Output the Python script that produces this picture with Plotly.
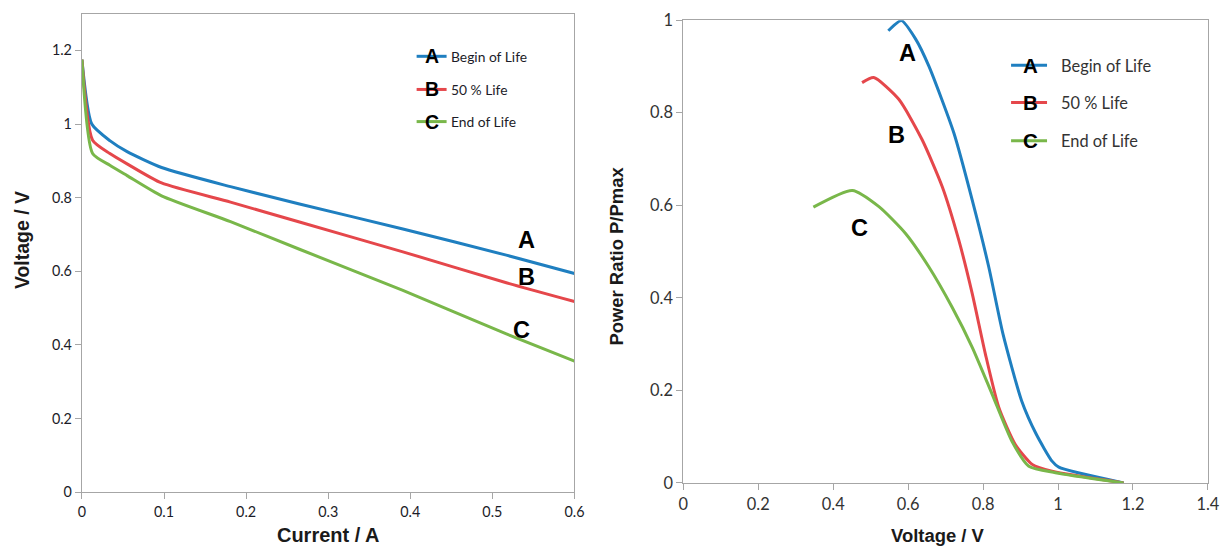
import plotly.graph_objects as go

W, H = 1222, 547

# ---------------- data (left: polarisation curves) ----------------
current_A = [0, 0.012, 0.034, 0.055, 0.097, 0.181, 0.265, 0.391, 0.517, 0.6]
voltage_A = [1.175, 1.0, 0.955, 0.925, 0.882, 0.830, 0.783, 0.715, 0.644, 0.594]
current_B = [0, 0.013, 0.034, 0.055, 0.097, 0.181, 0.265, 0.391, 0.517, 0.6]
voltage_B = [1.175, 0.956, 0.92, 0.892, 0.84, 0.788, 0.734, 0.653, 0.569, 0.518]
current_C = [0, 0.013, 0.034, 0.055, 0.097, 0.181, 0.265, 0.391, 0.517, 0.6]
voltage_C = [1.175, 0.92, 0.888, 0.86, 0.805, 0.735, 0.66, 0.548, 0.43, 0.356]

# ---------------- data (right: power ratio vs voltage) ----------------
volt_A = [0.547, 0.582, 0.62, 0.655, 0.722, 0.771, 0.815, 0.853, 0.903, 0.942, 0.984, 1.002, 1.175]
pr_A = [0.977, 0.999, 0.959, 0.901, 0.756, 0.611, 0.467, 0.322, 0.177, 0.105, 0.047, 0.034, 0.0]
volt_B = [0.477, 0.508, 0.575, 0.637, 0.691, 0.735, 0.771, 0.806, 0.842, 0.886, 0.931, 0.984, 1.175]
pr_B = [0.865, 0.876, 0.829, 0.742, 0.64, 0.525, 0.409, 0.279, 0.163, 0.083, 0.04, 0.025, 0.0]
volt_C = [0.347, 0.451, 0.522, 0.593, 0.655, 0.717, 0.771, 0.824, 0.877, 0.922, 0.993, 1.175]
pr_C = [0.596, 0.632, 0.597, 0.539, 0.467, 0.38, 0.293, 0.192, 0.09, 0.036, 0.022, 0.0]

letters = ["A", "B", "C"]
series_names = ["Begin of Life", "50 % Life", "End of Life"]
colors = ["#1f7fc0", "#e5474b", "#79b74a"]

left_label_pos = [(0.5416, 0.686), (0.5416, 0.584), (0.535, 0.442)]
right_label_pos = [(0.597, 0.93), (0.568, 0.752), (0.469, 0.551)]

left_ticks_x = [0, 0.1, 0.2, 0.3, 0.4, 0.5, 0.6]
left_ticks_y = [0, 0.2, 0.4, 0.6, 0.8, 1.0, 1.2]
right_ticks_x = [0, 0.2, 0.4, 0.6, 0.8, 1.0, 1.2, 1.4]
right_ticks_y = [0, 0.2, 0.4, 0.6, 0.8, 1.0]

# the photographed page is slightly rescaled; map target pixels to figure pixels
SX, BX = 0.987, 5.0
SY, BY = 0.961, 10.9
FS = 1.025  # font compensation


def fx(t):
    return (t - BX) / SX


def fy(t):
    return (t - BY) / SY


def px(t):
    return fx(t) / W


def py(t):
    return 1 - fy(t) / H


# ---------------- figure ----------------
fig = go.Figure()
left_sets = [(current_A, voltage_A), (current_B, voltage_B), (current_C, voltage_C)]
right_sets = [(volt_A, pr_A), (volt_B, pr_B), (volt_C, pr_C)]

for (xs, ys), c, n in zip(left_sets, colors, series_names):
    fig.add_trace(go.Scatter(x=xs, y=ys, mode="lines", name=n, showlegend=False,
                             line=dict(color=c, width=3, shape="spline", smoothing=0.6),
                             xaxis="x", yaxis="y"))
for (xs, ys), c, n in zip(right_sets, colors, series_names):
    fig.add_trace(go.Scatter(x=xs, y=ys, mode="lines", name=n, showlegend=False,
                             line=dict(color=c, width=3, shape="spline", smoothing=0.6),
                             xaxis="x2", yaxis="y2"))

axis_common = dict(showgrid=False, zeroline=False, showline=True, linecolor="#a6a6a6",
                   linewidth=1.3, mirror=True, ticks="outside", tickcolor="#a6a6a6",
                   ticklen=6, tickwidth=1.3)

fig.update_layout(
    width=W, height=H,
    margin=dict(l=0, r=0, t=0, b=0),
    paper_bgcolor="white", plot_bgcolor="white",
    showlegend=False,
    xaxis=dict(domain=[px(82), px(575)], range=[0, 0.6], tickvals=left_ticks_x,
               tickfont=dict(family="Lato", size=14 * FS, color="#1c1c28"), anchor="y",
               **axis_common),
    yaxis=dict(domain=[py(491), py(14.5)], range=[0, 1.3], tickvals=left_ticks_y,
               tickfont=dict(family="Lato", size=14 * FS, color="#1c1c28"), anchor="x",
               **axis_common),
    xaxis2=dict(domain=[px(684), px(1209)], range=[0, 1.4], tickvals=right_ticks_x,
                tickfont=dict(family="Lato", size=16 * FS, color="#333333"), anchor="y2",
                **axis_common),
    yaxis2=dict(domain=[py(481.7), py(21)], range=[0, 1.0], tickvals=right_ticks_y,
                tickfont=dict(family="Lato", size=16 * FS, color="#333333"), anchor="x2",
                **axis_common),
)

ann = []
# curve letters
for (x, y), L in zip(left_label_pos, letters):
    ann.append(dict(x=x, y=y, xref="x", yref="y", text="<b>%s</b>" % L, showarrow=False,
                    xanchor="center", yanchor="middle",
                    font=dict(family="Liberation Sans", size=23 * FS, color="black")))
for (x, y), L in zip(right_label_pos, letters):
    ann.append(dict(x=x, y=y, xref="x2", yref="y2", text="<b>%s</b>" % L, showarrow=False,
                    xanchor="center", yanchor="middle",
                    font=dict(family="Liberation Sans", size=23 * FS, color="black")))


# axis titles
def title(x, y, text, size, angle=0):
    ann.append(dict(x=px(x), y=py(y), xref="paper", yref="paper", text="<b>%s</b>" % text,
                    showarrow=False, textangle=angle, xanchor="center", yanchor="middle",
                    font=dict(family="Liberation Sans", size=size * FS, color="#1a1a1a")))


title(22, 240, "Voltage / V", 19, -90)
title(328, 533.5, "Current / A", 19.5)
title(617, 256, "Power Ratio P/Pmax", 18, -90)
title(939, 534, "Voltage / V", 18)

shapes = []
# left legend
left_leg_y = [57, 90, 122]
for yy, c, L, n in zip(left_leg_y, colors, letters, series_names):
    shapes.append(dict(type="line", xref="paper", yref="paper", x0=px(417), x1=px(447),
                       y0=py(yy), y1=py(yy), line=dict(color=c, width=3)))
    ann.append(dict(x=px(432), y=py(yy), xref="paper", yref="paper", text="<b>%s</b>" % L,
                    xanchor="center", yanchor="middle",
                    showarrow=False, font=dict(family="Liberation Sans", size=19 * FS, color="black")))
    ann.append(dict(x=px(449), y=py(yy), xref="paper", yref="paper", text=n, xanchor="left",
                    yanchor="middle",
                    showarrow=False, font=dict(family="Lato", size=13.5 * FS, color="#1c1c28")))
# right legend
right_leg_y = [66, 103, 141]
for yy, c, L, n in zip(right_leg_y, colors, letters, series_names):
    shapes.append(dict(type="line", xref="paper", yref="paper", x0=px(1012), x1=px(1048),
                       y0=py(yy), y1=py(yy), line=dict(color=c, width=3)))
    ann.append(dict(x=px(1031), y=py(yy), xref="paper", yref="paper", text="<b>%s</b>" % L,
                    xanchor="center", yanchor="middle",
                    showarrow=False, font=dict(family="Liberation Sans", size=20 * FS, color="black")))
    ann.append(dict(x=px(1060), y=py(yy), xref="paper", yref="paper", text=n, xanchor="left",
                    yanchor="middle",
                    showarrow=False, font=dict(family="Lato", size=16 * FS, color="#333333")))

fig.update_layout(annotations=ann, shapes=shapes)
fig.write_html("out.html")
